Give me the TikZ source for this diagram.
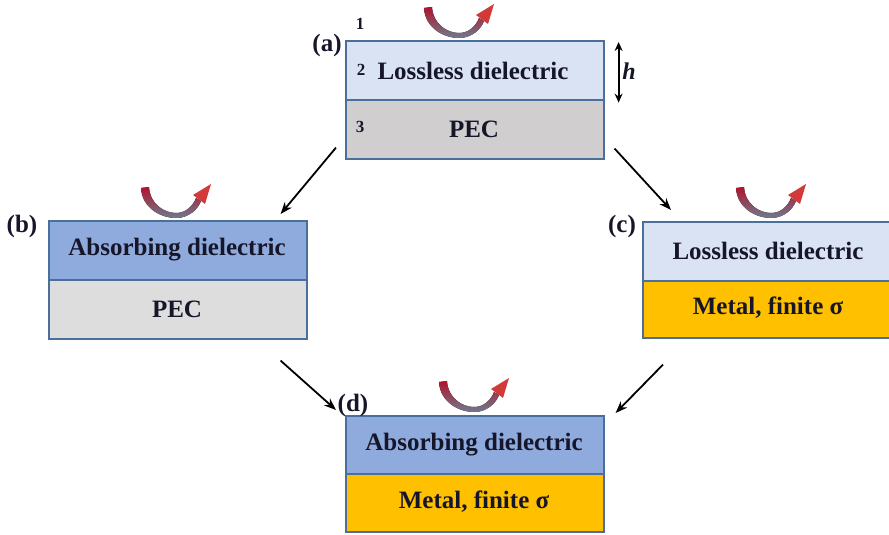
\documentclass[tikz,border=0pt]{standalone}
\usepackage{fontspec}
\setmainfont{Liberation Serif}
\usetikzlibrary{arrows.meta}
\definecolor{lblue}{HTML}{DAE3F3}
\definecolor{mblue}{HTML}{8FAADC}
\definecolor{pecgray}{HTML}{D0CECE}
\definecolor{gold}{HTML}{FFC000}
\definecolor{edge}{HTML}{4A6F9A}
\definecolor{ink}{HTML}{16162A}
\definecolor{dred}{HTML}{B0142C}
\definecolor{rred}{HTML}{D23A3A}
\definecolor{bgray}{HTML}{6E7A8E}
\tikzset{
  layer/.style={draw=edge, line width=1.6pt, minimum width=258pt, inner sep=0pt, anchor=north west},
  txt/.style={font=\fontsize{25}{28}\selectfont\bfseries, text=ink, inner sep=0pt},
  lab/.style={font=\fontsize{25}{28}\selectfont\bfseries, text=ink, inner sep=0pt},
  num/.style={font=\fontsize{17}{19}\selectfont\bfseries, text=ink, inner sep=0pt},
  conn/.style={line width=1.8pt, -{Stealth[length=12pt,width=9pt]}},
  refl/.pic={
    \fill[top color=dred, bottom color=bgray]
      (-35,-28) .. controls (-34,-8) and (-15,2) .. (0,2)
      .. controls (13,2) and (22,-7) .. (25,-15)
      -- (20,-18) .. controls (17,-10) and (10,-3) .. (0,-3)
      .. controls (-12,-3) and (-26,-12) .. (-27,-29) -- cycle;
    \fill[rred] (35,-32) -- (17,-21) -- (29,-12) -- cycle;
  }
}
\begin{document}
\begin{tikzpicture}[x=1pt,y=-1pt]
\clip (0,0) rectangle (889,535);
\fill[white] (0,0) rectangle (889,535);
% (a)
\node[layer, fill=lblue, minimum height=59pt] (a1) at (345,40) {};
\node[layer, fill=pecgray, minimum height=59pt] (a2) at (345,99) {};
\node[txt] (a1t) at (473,71) {Lossless dielectric};
\node[txt] (a2t) at (474,129) {PEC};
\node[num] (n1) at (360,24) {1};
\node[num] (n2) at (361,70) {2};
\node[num] (n3) at (360,127) {3};
\node[lab] (la) at (327,45) {(a)};
\pic at (459,36) {refl};
\coordinate (h1) at ([shift={(14,2)}]a1.north east);
\coordinate (h2) at ([shift={(14,2)}]a1.south east);
\draw[line width=1.8pt, {Stealth[length=9pt,width=8pt]}-{Stealth[length=9pt,width=8pt]}] (h1) -- (h2);
\node[font=\fontsize{24}{26}\selectfont\bfseries\itshape, text=ink, inner sep=0pt] (hl) at (629,71) {h};
% (b)
\node[layer, fill=mblue, minimum height=59pt] (b1) at (48,220) {};
\node[layer, fill=pecgray!70!white, minimum height=59pt] (b2) at (48,279) {};
\node[txt] (b1t) at (177,250) {Absorbing dielectric};
\node[txt] (b2t) at (177,309) {PEC};
\node[lab] (lb) at (22,226) {(b)};
\pic at (176,216) {refl};
% (c)
\node[layer, fill=lblue, minimum height=59pt] (c1) at (642,221) {};
\node[layer, fill=gold, minimum height=57pt] (c2) at (642,280) {};
\node[txt] (c1t) at (768,251) {Lossless dielectric};
\node[txt] (c2t) at (768,308) {Metal, finite σ};
\node[lab] (lc) at (622,226) {(c)};
\pic at (771,216) {refl};
% (d)
\node[layer, fill=mblue, minimum height=58pt] (d1) at (345,415) {};
\node[layer, fill=gold, minimum height=58pt] (d2) at (345,473) {};
\node[txt] (d1t) at (474,445) {Absorbing dielectric};
\node[txt] (d2t) at (474,502) {Metal, finite σ};
\node[lab] (ld) at (353,405) {(d)};
\pic at (474,410) {refl};
% connectors
\draw[conn] ([shift={(-9,-12)}]a2.south west) -- ([shift={(-27,-6)}]b1.north east);
\draw[conn] ([shift={(10,-11)}]a2.south east) -- ([shift={(29,-11)}]c1.north west);
\draw[conn] ([shift={(-27,21)}]b2.south east) -- ([shift={(-9,-5)}]d1.north west);
\draw[conn] ([shift={(21,26)}]c2.south west) -- ([shift={(11,-2)}]d1.north east);
\end{tikzpicture}
\end{document}
